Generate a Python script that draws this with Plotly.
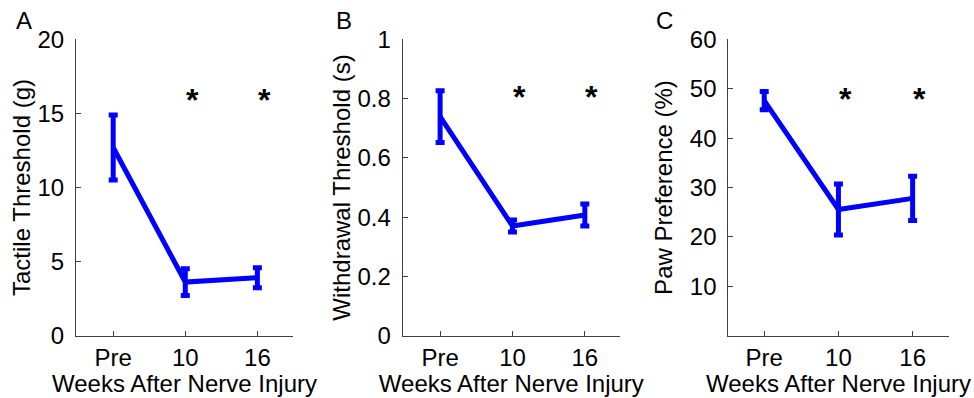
import plotly.graph_objects as go

# ---- data ----
categories = ["Pre", "10", "16"]
xpos = [1, 2, 3]

tactile_mean = [12.7, 3.62, 3.91]
tactile_err = [2.2, 0.9, 0.67]

withdrawal_mean = [0.739, 0.370, 0.407]
withdrawal_err = [0.087, 0.020, 0.037]

paw_mean = [47.6, 25.55, 27.8]
paw_err = [1.85, 5.15, 4.5]

star_x = [2, 3]
tactile_star_y = [16.25, 16.25]
withdrawal_star_y = [0.823, 0.823]
paw_star_y = [49.0, 49.0]

panel_letters = ["A", "B", "C"]
y_titles = ["Tactile Threshold (g)", "Withdrawal Threshold (s)", "Paw Preference (%)"]
x_title = "Weeks After Nerve Injury"

# ---- styling ----
FONT = "Arial, Liberation Sans, sans-serif"
BLUE = "#0000FF"
AXIS_COLOR = "#404040"
FS = 24

panels = [
    dict(mean=tactile_mean, err=tactile_err, stars=tactile_star_y,
         xdom=[76/974, 293/974], xr=[0.484, 3.494], yr=[0, 20],
         tickvals=[0, 5, 10, 15, 20], ticktext=["0", "5", "10", "15", "20"],
         ystandoff=0),
    dict(mean=withdrawal_mean, err=withdrawal_err, stars=withdrawal_star_y,
         xdom=[402.7/974, 620/974], xr=[0.483, 3.486], yr=[0, 1],
         tickvals=[0, 0.2, 0.4, 0.6, 0.8, 1], ticktext=["0", "0.2", "0.4", "0.6", "0.8", "1"],
         ystandoff=0),
    dict(mean=paw_mean, err=paw_err, stars=paw_star_y,
         xdom=[728.3/974, 948.7/974], xr=[0.516, 3.486], yr=[0, 60],
         tickvals=[10, 20, 30, 40, 50, 60], ticktext=["10", "20", "30", "40", "50", "60"],
         ystandoff=10),
]

ydom = [62.3/398, 358.7/398]

fig = go.Figure()
annotations = []
layout_axes = {}

letter_x = [14, 334, 654]

for i, p in enumerate(panels):
    n = "" if i == 0 else str(i + 1)
    xa = "x" + n
    ya = "y" + n
    fig.add_trace(go.Scatter(
        x=xpos, y=p["mean"], mode="lines",
        line=dict(color=BLUE, width=5),
        error_y=dict(type="data", array=p["err"], visible=True,
                     color=BLUE, thickness=5, width=4.5),
        xaxis=xa, yaxis=ya, showlegend=False, hoverinfo="skip",
    ))
    for sx, sy in zip(star_x, p["stars"]):
        annotations.append(dict(
            x=sx, y=sy, xref=xa, yref=ya, text="<b>*</b>", showarrow=False,
            xshift=7, yshift=-5, xanchor="center", yanchor="middle",
            font=dict(family=FONT, size=32, color="black"),
        ))
    annotations.append(dict(
        x=letter_x[i] / 974, y=1 - 5 / 398, xref="paper", yref="paper",
        text=panel_letters[i], showarrow=False, xanchor="left", yanchor="top",
        font=dict(family=FONT, size=FS, color="black"),
    ))
    layout_axes["xaxis" + n] = dict(
        domain=p["xdom"], range=p["xr"], anchor=ya, automargin=False,
        tickvals=xpos, ticktext=categories,
        showline=True, linecolor=AXIS_COLOR, linewidth=1,
        ticks="inside", ticklen=5, tickcolor=AXIS_COLOR, tickwidth=1,
        showgrid=False, zeroline=False,
        tickfont=dict(family=FONT, size=FS, color="black"),
        title=dict(text=x_title, font=dict(family=FONT, size=FS, color="black"), standoff=4),
        fixedrange=True,
    )
    layout_axes["yaxis" + n] = dict(
        domain=ydom, range=p["yr"], anchor=xa, automargin=False,
        tickvals=p["tickvals"], ticktext=p["ticktext"],
        showline=True, linecolor=AXIS_COLOR, linewidth=1,
        ticks="inside", ticklen=5, tickcolor=AXIS_COLOR, tickwidth=1,
        showgrid=False, zeroline=False,
        tickfont=dict(family=FONT, size=FS, color="black"),
        ticklabelstandoff=6,
        title=dict(text=y_titles[i], font=dict(family=FONT, size=FS, color="black"),
                   standoff=p["ystandoff"]),
        fixedrange=True,
    )

fig.update_layout(
    width=974, height=398,
    margin=dict(l=0, r=0, t=0, b=0, autoexpand=False),
    paper_bgcolor="white", plot_bgcolor="white",
    annotations=annotations,
    **layout_axes,
)

fig.write_html("out.html", config={"displayModeBar": False})
